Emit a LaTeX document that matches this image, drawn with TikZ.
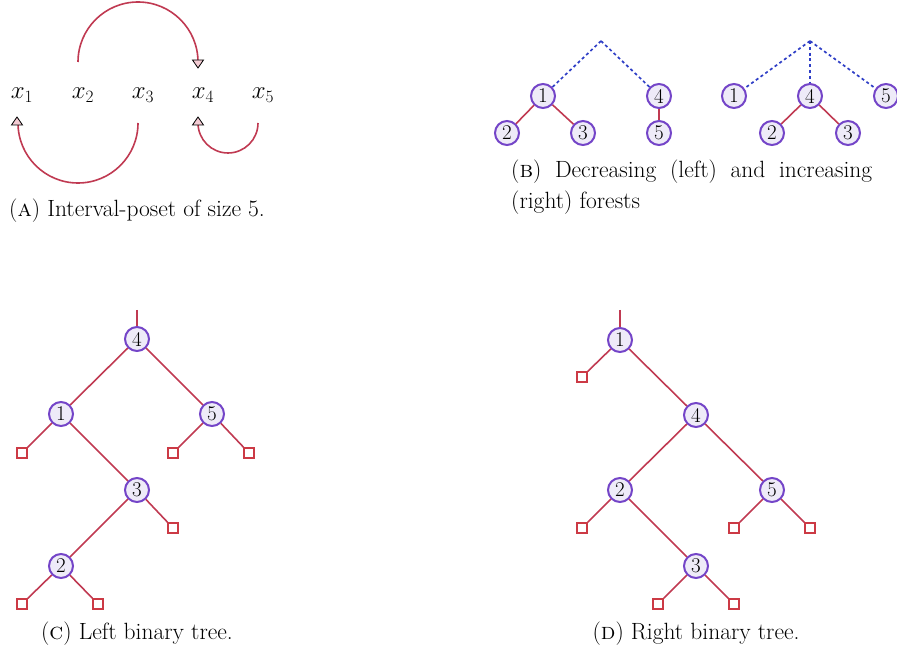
\documentclass[tikz,border=0pt]{standalone}
\usetikzlibrary{calc}
\definecolor{edgered}{HTML}{C03A52}
\definecolor{nodeborder}{HTML}{7445C8}
\definecolor{nodefill}{HTML}{EEEBF8}
\definecolor{dotblue}{HTML}{2E3EC6}
\definecolor{tippink}{HTML}{F4CCD4}
\definecolor{leafred}{HTML}{CC3A45}
\begin{document}
\begin{tikzpicture}[x=1pt,y=1pt,
  vert/.style={circle,draw=nodeborder,fill=nodefill,line width=2pt,minimum size=24pt,inner sep=0pt,font=\fontsize{21}{21}\selectfont},
  leaf/.style={rectangle,draw=leafred,fill=white,line width=2pt,minimum size=9.5pt,inner sep=0pt},
  edge/.style={draw=edgered,line width=1.6pt},
  dotted edge/.style={draw=dotblue,line width=1.7pt,dash pattern=on 3pt off 2.8pt},
  tipshape/.style={draw=black,fill=tippink,line width=0.8pt,line join=miter},
  lab/.style={inner sep=0pt,font=\fontsize{23}{23}\selectfont},
  capt/.style={inner sep=0pt,font=\fontsize{23.5}{28}\selectfont}]
\useasboundingbox (0,0) rectangle (897,-652);

% ---------- (A) interval poset ----------
\node[lab] (x1) at (22,-95) {$x_1$};
\node[lab] (x2) at (83,-95) {$x_2$};
\node[lab] (x3) at (143,-95) {$x_3$};
\node[lab] (x4) at (203,-95) {$x_4$};
\node[lab] (x5) at (263,-95) {$x_5$};
\coordinate (a2) at ($(x2)+(-5,33)$);
\coordinate (t4top) at ($(x4)+(-5,27)$);
\coordinate (a3) at ($(x3)+(-5,-28)$);
\coordinate (t1) at ($(x1)+(-5,-22)$);
\coordinate (a5) at ($(x5)+(-5,-28)$);
\coordinate (t4bot) at ($(x4)+(-5,-22)$);
\draw[edge] (a2) arc[start angle=180,end angle=0,radius=60];
\draw[edge] (a3) arc[start angle=0,end angle=-180,radius=60];
\draw[edge] (a5) arc[start angle=0,end angle=-180,radius=30];
\draw[tipshape] (t4top) -- ++(-5.5,8) -- ++(11,0) -- cycle;
\draw[tipshape] (t1) -- ++(-5.5,-8) -- ++(11,0) -- cycle;
\draw[tipshape] (t4bot) -- ++(-5.5,-8) -- ++(11,0) -- cycle;
\node[capt,anchor=west] (capA) at (9,-211) {(\textsc{a}) Interval-poset of size 5.};

% ---------- (B) forests ----------
\coordinate (apL) at (601,-41);
\node[vert] (b1) at (543,-96) {1};
\node[vert] (b2) at (507,-133) {2};
\node[vert] (b3) at (583,-133) {3};
\node[vert] (b4) at (659,-96) {4};
\node[vert] (b5) at (659,-133) {5};
\draw[dotted edge] (apL) -- (b1);
\draw[dotted edge] (apL) -- (b4);
\draw[edge] (b1) -- (b2);
\draw[edge] (b1) -- (b3);
\draw[edge] (b4) -- (b5);

\coordinate (apR) at (810,-41);
\node[vert] (c1) at (734,-96) {1};
\node[vert] (c4) at (810,-96) {4};
\node[vert] (c5) at (886,-96) {5};
\node[vert] (c2) at (772,-133) {2};
\node[vert] (c3) at (848,-133) {3};
\draw[dotted edge] (apR) -- (c1);
\draw[dotted edge] (apR) -- (c4);
\draw[dotted edge] (apR) -- (c5);
\draw[edge] (c4) -- (c2);
\draw[edge] (c4) -- (c3);
\node[capt,anchor=west] (capB1) at (511,-172) {\hbox to 361pt{(\textsc{b})\hfill Decreasing\hfill (left)\hfill and\hfill increasing}};
\node[capt,anchor=west] (capB2) at (511,-203) {(right) forests};

% ---------- (C) left binary tree ----------
\coordinate (sC) at (137,-310);
\node[vert] (n4) at (137,-339) {4};
\node[vert] (n1) at (61,-414) {1};
\node[vert] (n5) at (212,-414) {5};
\node[vert] (n3) at (137,-490) {3};
\node[vert] (n2) at (61,-566) {2};
\node[leaf] (l1) at (22,-453) {};
\node[leaf] (l5a) at (173,-453) {};
\node[leaf] (l5b) at (249,-453) {};
\node[leaf] (l3) at (173,-528) {};
\node[leaf] (l2a) at (22,-604) {};
\node[leaf] (l2b) at (98,-604) {};
\draw[edge] (sC) -- (n4);
\draw[edge] (n4) -- (n1);
\draw[edge] (n4) -- (n5);
\draw[edge] (n1) -- (l1);
\draw[edge] (n1) -- (n3);
\draw[edge] (n5) -- (l5a);
\draw[edge] (n5) -- (l5b);
\draw[edge] (n3) -- (n2);
\draw[edge] (n3) -- (l3);
\draw[edge] (n2) -- (l2a);
\draw[edge] (n2) -- (l2b);
\node[capt] (capC) at (137,-634) {(\textsc{c}) Left binary tree.};

% ---------- (D) right binary tree ----------
\coordinate (sD) at (620,-310);
\node[vert] (m1) at (620,-340) {1};
\node[vert] (m4) at (696,-415) {4};
\node[vert] (m2) at (620,-490) {2};
\node[vert] (m5) at (772,-490) {5};
\node[vert] (m3) at (696,-566) {3};
\node[leaf] (k1) at (582,-377) {};
\node[leaf] (k2) at (582,-528) {};
\node[leaf] (k5a) at (734,-528) {};
\node[leaf] (k5b) at (810,-528) {};
\node[leaf] (k3a) at (658,-604) {};
\node[leaf] (k3b) at (734,-604) {};
\draw[edge] (sD) -- (m1);
\draw[edge] (m1) -- (k1);
\draw[edge] (m1) -- (m4);
\draw[edge] (m4) -- (m2);
\draw[edge] (m4) -- (m5);
\draw[edge] (m2) -- (k2);
\draw[edge] (m2) -- (m3);
\draw[edge] (m5) -- (k5a);
\draw[edge] (m5) -- (k5b);
\draw[edge] (m3) -- (k3a);
\draw[edge] (m3) -- (k3b);
\node[capt] (capD) at (696,-634) {(\textsc{d}) Right binary tree.};
\end{tikzpicture}
\end{document}
